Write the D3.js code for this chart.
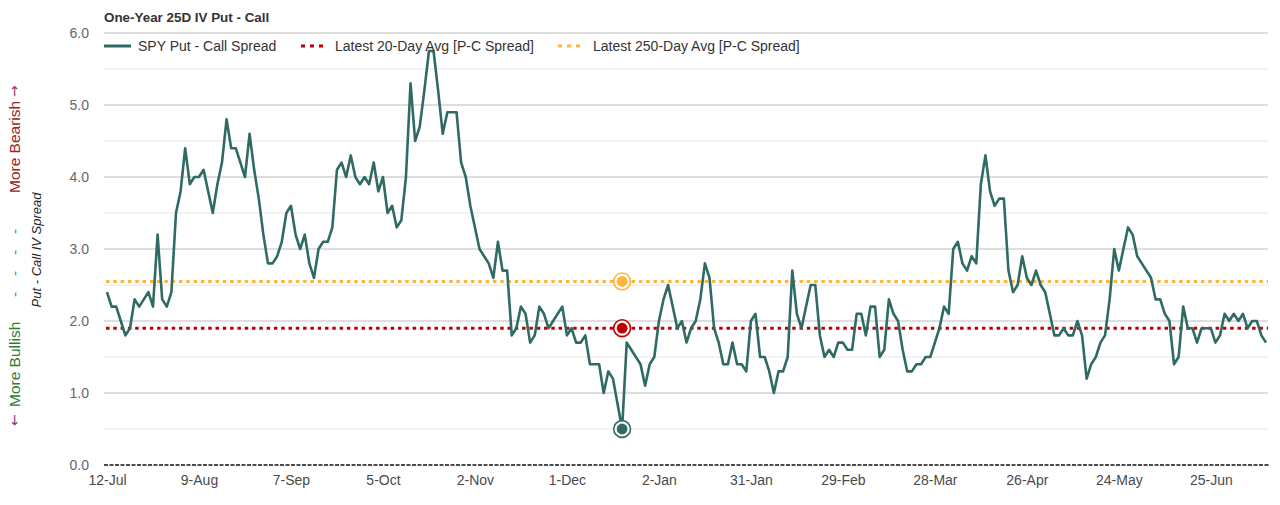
<!DOCTYPE html>
<html><head><meta charset="utf-8">
<script src="https://cdn.jsdelivr.net/npm/d3@7"></script>
<style>
body{margin:0;background:#fff;}
svg{display:block;font-family:"Liberation Sans",Arial,sans-serif;}
</style>
</head><body><svg id="c" width="1280" height="505"></svg>
<script>
// ---- data ----
const chartTitle = "One-Year 25D IV Put - Call";
const seriesNames = ["SPY Put - Call Spread", "Latest 20-Day Avg [P-C Spread]", "Latest 250-Day Avg [P-C Spread]"];
const spread = [
 2.4,2.2,2.2,2.0,1.8,1.9,2.3,2.2,2.3,2.4, 2.2,3.2,2.3,2.2,2.4,3.5,3.8,4.4,3.9,4.0,
 4.0,4.1,3.8,3.5,3.9,4.2,4.8,4.4,4.4,4.2, 4.0,4.6,4.1,3.7,3.2,2.8,2.8,2.9,3.1,3.5,
 3.6,3.2,3.0,3.2,2.8,2.6,3.0,3.1,3.1,3.3, 4.1,4.2,4.0,4.3,4.0,3.9,4.0,3.9,4.2,3.8,
 4.0,3.5,3.6,3.3,3.4,4.0,5.3,4.5,4.7,5.2, 5.75,5.75,5.2,4.6,4.9,4.9,4.9,4.2,4.0,3.6,
 3.3,3.0,2.9,2.8,2.6,3.1,2.7,2.7,1.8,1.9, 2.2,2.1,1.7,1.8,2.2,2.1,1.9,2.0,2.1,2.2,
 1.8,1.9,1.7,1.7,1.8,1.4,1.4,1.4,1.0,1.3, 1.2,0.85,0.5,1.7,1.6,1.5,1.4,1.1,1.4,1.5,
 2.0,2.3,2.5,2.2,1.9,2.0,1.7,1.9,2.0,2.3, 2.8,2.6,1.9,1.7,1.4,1.4,1.7,1.4,1.4,1.3,
 2.0,2.1,1.5,1.5,1.3,1.0,1.3,1.3,1.5,2.7, 2.1,1.9,2.2,2.5,2.5,1.8,1.5,1.6,1.5,1.7,
 1.7,1.6,1.6,2.1,2.1,1.8,2.2,2.2,1.5,1.6, 2.3,2.1,2.0,1.6,1.3,1.3,1.4,1.4,1.5,1.5,
 1.7,1.9,2.2,2.1,3.0,3.1,2.8,2.7,2.9,2.8, 3.9,4.3,3.8,3.6,3.7,3.7,2.7,2.4,2.5,2.9,
 2.6,2.5,2.7,2.5,2.4,2.1,1.8,1.8,1.9,1.8, 1.8,2.0,1.8,1.2,1.4,1.5,1.7,1.8,2.3,3.0,
 2.7,3.0,3.3,3.2,2.9,2.8,2.7,2.6,2.3,2.3, 2.1,2.0,1.4,1.5,2.2,1.9,1.9,1.7,1.9,1.9,
 1.9,1.7,1.8,2.1,2.0,2.1,2.0,2.1,1.9,2.0, 2.0,1.8,1.7
];
const avg20 = 1.9;
const avg250 = 2.55;
const tickIndex = [0,20,40,60,80,100,120,140,160,180,200,220,240];
const tickLabels = ["12-Jul","9-Aug","7-Sep","5-Oct","2-Nov","1-Dec","2-Jan","31-Jan","29-Feb","28-Mar","26-Apr","24-May","25-Jun"];
const yMajor = [0,1,2,3,4,5,6];
const yMinor = [0.5,1.5,2.5,3.5,4.5,5.5];

// ---- chart ----
const svg = d3.select("#c");
const x = d3.scaleLinear().domain([0, spread.length - 1]).range([107, 1266]);
const y = d3.scaleLinear().domain([0, 6]).range([465, 33]);
const gx0 = 104, gx1 = 1268;
const cLine = "#2f6b64", cRed = "#c00000", cOrange = "#fdb53a";

// gridlines
svg.append("g").selectAll("line").data(yMinor).join("line")
  .attr("x1", gx0).attr("x2", gx1).attr("y1", d => y(d)).attr("y2", d => y(d))
  .attr("stroke", "#e8e8e8").attr("stroke-width", 1.2);
svg.append("g").selectAll("line").data(yMajor.filter(d => d > 0)).join("line")
  .attr("x1", gx0).attr("x2", gx1).attr("y1", d => y(d)).attr("y2", d => y(d))
  .attr("stroke", "#d3d3d3").attr("stroke-width", 1.6);
// zero line
svg.append("line").attr("x1", gx0).attr("x2", 1270).attr("y1", y(0)).attr("y2", y(0))
  .attr("stroke", "#111").attr("stroke-width", 1.7).attr("stroke-dasharray", "4,1.5");

// y axis labels
const yAxis = d3.axisLeft(y).tickValues(yMajor).tickFormat(d3.format(".1f")).tickSize(0).tickPadding(0);
const ya = svg.append("g").attr("transform", "translate(89,0)").call(yAxis);
ya.select(".domain").remove();
ya.selectAll("text").attr("font-size", 14).attr("fill", "#666").attr("font-family", "Liberation Sans, Arial, sans-serif");

// x axis labels
const xAxis = d3.axisBottom(x).tickValues(tickIndex).tickFormat((d, i) => tickLabels[i]).tickSize(0).tickPadding(0);
const xa = svg.append("g").attr("transform", "translate(0,474)").call(xAxis);
xa.select(".domain").remove();
xa.selectAll("text").attr("font-size", 14).attr("fill", "#4a4a4a").attr("dy", "0.75em").attr("font-family", "Liberation Sans, Arial, sans-serif");

// average lines
svg.append("line").attr("x1", gx0 + 2).attr("x2", gx1).attr("y1", y(avg250)).attr("y2", y(avg250))
  .attr("stroke", cOrange).attr("stroke-width", 3).attr("stroke-dasharray", "3.5,3.8");
svg.append("line").attr("x1", gx0 + 2).attr("x2", gx1).attr("y1", y(avg20)).attr("y2", y(avg20))
  .attr("stroke", cRed).attr("stroke-width", 3).attr("stroke-dasharray", "3.5,3.8");

// series line
svg.append("path").datum(spread)
  .attr("d", d3.line().x((d, i) => x(i)).y(d => y(d)))
  .attr("fill", "none").attr("stroke", cLine).attr("stroke-width", 2.6)
  .attr("stroke-linejoin", "round");

// markers at the series minimum
const mi = d3.minIndex(spread);
const markers = [[avg250, cOrange], [avg20, cRed], [spread[mi], cLine]];
markers.forEach(([v, c]) => {
  svg.append("circle").attr("cx", x(mi)).attr("cy", y(v)).attr("r", 8.4)
    .attr("fill", "#fff").attr("stroke", c).attr("stroke-width", 1.6);
  svg.append("circle").attr("cx", x(mi)).attr("cy", y(v)).attr("r", 5.4).attr("fill", c);
});

// title
svg.append("text").attr("x", 104).attr("y", 22).attr("font-size", 13.4).attr("font-weight", "bold")
  .attr("fill", "#333").text(chartTitle);

// legend
const lg = svg.append("g");
lg.append("line").attr("x1", 104).attr("x2", 131).attr("y1", 46).attr("y2", 46)
  .attr("stroke", cLine).attr("stroke-width", 3);
lg.append("text").attr("x", 138).attr("y", 51).attr("font-size", 14).attr("fill", "#333").text(seriesNames[0]);
lg.append("line").attr("x1", 301).attr("x2", 324).attr("y1", 46).attr("y2", 46)
  .attr("stroke", cRed).attr("stroke-width", 3).attr("stroke-dasharray", "4,5");
lg.append("text").attr("x", 335).attr("y", 51).attr("font-size", 14).attr("fill", "#333").text(seriesNames[1]);
lg.append("line").attr("x1", 558).attr("x2", 582).attr("y1", 46).attr("y2", 46)
  .attr("stroke", cOrange).attr("stroke-width", 3).attr("stroke-dasharray", "4,5");
lg.append("text").attr("x", 593).attr("y", 51).attr("font-size", 14).attr("fill", "#333").text(seriesNames[2]);

// left side rotated labels
const side = svg.append("g").attr("transform", "translate(20,425) rotate(-90)")
  .attr("font-size", 15.5);
side.append("text").attr("x", -1).attr("y", -1).attr("fill", "#7d3c7d")
  .attr("font-family", "DejaVu Sans, sans-serif").attr("font-size", 14).text("←");
side.append("text").attr("x", 18).attr("fill", "#2e7d32").text("More Bullish");
[128, 149, 170, 191].forEach(p => side.append("text").attr("x", p).attr("fill", "#5f8f5f").text("-"));
side.append("text").attr("x", 232).attr("fill", "#a02222").text("More Bearish");
side.append("text").attr("x", 328).attr("y", -1).attr("fill", "#8e3c6e")
  .attr("font-family", "DejaVu Sans, sans-serif").attr("font-size", 14).text("→");

svg.append("text").attr("transform", "translate(41,250) rotate(-90)")
  .attr("text-anchor", "middle").attr("font-size", 13).attr("font-style", "italic")
  .attr("fill", "#222").text("Put - Call IV Spread");
</script>
</body></html>
